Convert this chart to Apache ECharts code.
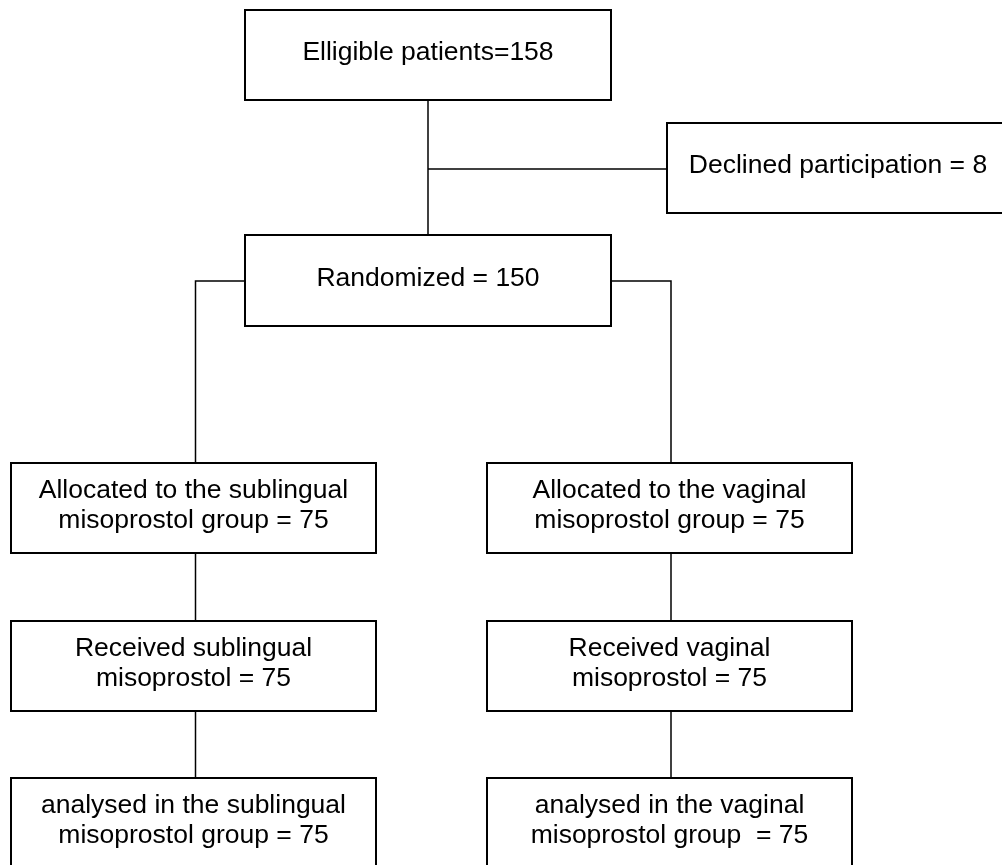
<!DOCTYPE html>
<html>
<head>
<meta charset="utf-8">
<script src="https://cdn.jsdelivr.net/npm/echarts@6/dist/echarts.min.js"></script>
<style>
  html, body { margin: 0; padding: 0; background: #fff; }
  #chart { width: 1002px; height: 865px; }
</style>
</head>
<body>
<div id="chart"></div>
<script>
const stepNames = [
  'Elligible patients=',
  'Declined participation = ',
  'Randomized = ',
  'Allocated to the sublingual\nmisoprostol group = ',
  'Allocated to the vaginal\nmisoprostol group = ',
  'Received sublingual\nmisoprostol = ',
  'Received vaginal\nmisoprostol = ',
  'analysed in the sublingual\nmisoprostol group = ',
  'analysed in the vaginal\nmisoprostol group  = '
];
const stepCounts = [158, 8, 150, 75, 75, 75, 75, 75, 75];

// ---- Layout (positions in a 1002 x 865 value space) ----
const boxLayout = [
  [245, 10, 611, 100],
  [667, 123, 1040, 213],
  [245, 235, 611, 326],
  [11, 463, 376, 553],
  [487, 463, 852, 553],
  [11, 621, 376, 711],
  [487, 621, 852, 711],
  [11, 778, 376, 868],
  [487, 778, 852, 868]
];
// horizontal centre of the text inside each box (null = box centre)
const textCenterX = [null, 838, null, null, null, null, null, null, null];
const connectorLayout = [
  [[428, 100], [428, 235]],
  [[428, 169], [667, 169]],
  [[245, 281], [195.5, 281], [195.5, 463]],
  [[611, 281], [671, 281], [671, 463]],
  [[195.5, 553], [195.5, 621]],
  [[671, 553], [671, 621]],
  [[195.5, 711], [195.5, 778]],
  [[671, 711], [671, 778]]
];

const labels = stepNames.map((n, i) => n + stepCounts[i]);
const boxData = boxLayout.map((b, i) => [b[0], b[1], b[2], b[3], i]);
const lineData = connectorLayout.map((pts, i) => [pts[0][0], pts[0][1], i]);

const chart = echarts.init(document.getElementById('chart'), null, { renderer: 'canvas' });
chart.setOption({
  animation: false,
  backgroundColor: '#ffffff',
  grid: { left: 0, right: 0, top: 0, bottom: 0 },
  xAxis: { type: 'value', min: 0, max: 1002, show: false },
  yAxis: { type: 'value', min: 0, max: 865, inverse: true, show: false },
  series: [
    {
      type: 'custom',
      clip: true,
      data: lineData,
      z: 1,
      renderItem: function (params, api) {
        const pts = connectorLayout[api.value(2)].map(p => api.coord(p));
        return {
          type: 'polyline',
          shape: { points: pts },
          style: { stroke: '#000', lineWidth: 1.5, fill: null }
        };
      }
    },
    {
      type: 'custom',
      clip: true,
      data: boxData,
      z: 2,
      renderItem: function (params, api) {
        const p0 = api.coord([api.value(0), api.value(1)]);
        const p1 = api.coord([api.value(2), api.value(3)]);
        const idx = api.value(4);
        const cx = textCenterX[idx] != null ? api.coord([textCenterX[idx], 0])[0] : (p0[0] + p1[0]) / 2;
        const cy = (p0[1] + p1[1]) / 2 - 2;
        return {
          type: 'group',
          children: [
            {
              type: 'rect',
              shape: { x: p0[0], y: p0[1], width: p1[0] - p0[0], height: p1[1] - p0[1] },
              style: { fill: '#fff', stroke: '#000', lineWidth: 2 }
            },
            {
              type: 'text',
              style: {
                text: labels[idx],
                x: cx,
                y: cy,
                align: 'center',
                verticalAlign: 'middle',
                fontSize: 26.5,
                lineHeight: 30,
                fontFamily: '"Liberation Sans", Arial, sans-serif',
                fill: '#000'
              }
            }
          ]
        };
      }
    }
  ]
});
</script>
</body>
</html>
